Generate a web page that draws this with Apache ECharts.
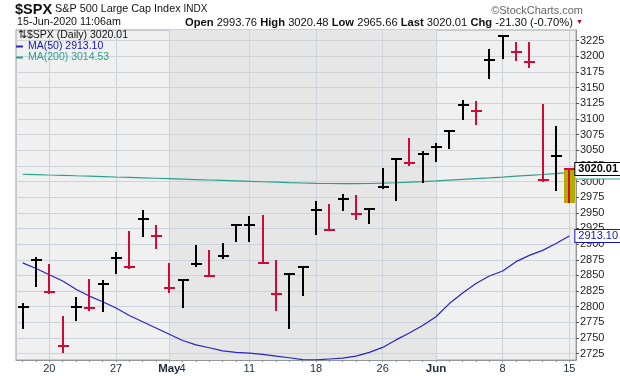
<!DOCTYPE html>
<html>
<head>
<meta charset="utf-8">
<title>$SPX Daily</title>
<script src="https://cdn.jsdelivr.net/npm/echarts@6/dist/echarts.min.js"></script>
<style>
html, body { margin: 0; padding: 0; background: #fff; }
#chart { width: 620px; height: 376px; }
</style>
</head>
<body>
<div id="chart"></div>
<script>
// trading days shown on the chart
var dates = ['2020-04-16','2020-04-17','2020-04-20','2020-04-21','2020-04-22','2020-04-23','2020-04-24',
	'2020-04-27','2020-04-28','2020-04-29','2020-04-30','2020-05-01','2020-05-04','2020-05-05','2020-05-06',
	'2020-05-07','2020-05-08','2020-05-11','2020-05-12','2020-05-13','2020-05-14','2020-05-15','2020-05-18',
	'2020-05-19','2020-05-20','2020-05-21','2020-05-22','2020-05-26','2020-05-27','2020-05-28','2020-05-29',
	'2020-06-01','2020-06-02','2020-06-03','2020-06-04','2020-06-05','2020-06-08','2020-06-09','2020-06-10',
	'2020-06-11','2020-06-12','2020-06-15'];
var highs = [2806.5, 2879.2, 2869.0, 2785.5, 2815.1, 2844.9, 2842.7, 2887.7, 2921.2, 2954.9, 2930.9,
	2869.1, 2844.2, 2898.2, 2891.1, 2901.9, 2932.2, 2944.3, 2945.8, 2874.1, 2852.8, 2865.0, 2968.1,
	2964.2, 2980.3, 2978.5, 2956.8, 3021.7, 3036.3, 3068.7, 3049.2, 3062.2, 3081.1, 3130.9, 3128.9,
	3211.7, 3233.1, 3222.7, 3223.3, 3123.5, 3088.4, 3020.48];
var lows = [2764.3, 2830.9, 2820.4, 2727.1, 2776.0, 2794.3, 2791.8, 2852.9, 2860.7, 2912.2, 2892.5,
	2821.6, 2797.9, 2863.6, 2847.7, 2876.5, 2902.9, 2903.4, 2869.6, 2793.2, 2765.0, 2816.8, 2913.9,
	2922.4, 2953.6, 2938.6, 2933.6, 2988.2, 2969.8, 3023.4, 2998.6, 3031.5, 3051.6, 3098.9, 3090.4,
	3163.8, 3196.0, 3193.1, 3181.5, 2999.5, 2984.5, 2965.66];
var closes = [2799.6, 2874.6, 2823.2, 2736.6, 2799.3, 2797.8, 2836.7, 2878.5, 2863.4, 2939.5, 2912.4,
	2830.7, 2842.7, 2868.4, 2848.4, 2881.2, 2929.8, 2930.3, 2870.1, 2820.0, 2852.5, 2863.7, 2953.9,
	2922.9, 2971.6, 2948.5, 2955.5, 2991.8, 3036.1, 3029.7, 3044.3, 3055.7, 3080.8, 3122.9, 3112.4,
	3193.9, 3232.4, 3207.2, 3190.1, 3002.1, 3041.3, 3020.01];
var prevClose = 2783.4; // close before the first bar, sets its colour
var ma50 = [2870, 2861, 2851, 2841, 2828, 2817, 2808, 2798, 2786, 2776, 2766, 2756, 2746, 2739,
	2734.5, 2729.5, 2727, 2726, 2724, 2721, 2718.5, 2715.5, 2715, 2716.5, 2718, 2721, 2727, 2735,
	2747, 2758, 2770, 2784, 2805, 2822, 2837, 2849, 2857, 2872, 2882, 2890, 2901, 2913.10];
var ma200 = [3011.6, 3011.0, 3010.4, 3009.9, 3009.2, 3008.6, 3007.9, 3007.2, 3006.6, 3005.9, 3005.2,
	3004.5, 3003.8, 3003.1, 3002.4, 3001.7, 3001.0, 3000.3, 2999.6, 2998.9, 2998.2, 2997.6, 2997.1,
	2996.8, 2996.6, 2996.6, 2996.8, 2997.3, 2998.0, 2998.9, 2999.9, 3001.0, 3002.2, 3003.4, 3004.6,
	3005.8, 3007.1, 3008.5, 3009.9, 3011.2, 3012.6, 3014.53];

// price axis ticks
var yTicks = [2725, 2750, 2775, 2800, 2825, 2850, 2875, 2900, 2925, 2950, 2975, 3000, 3025, 3050,
	3075, 3100, 3125, 3150, 3175, 3200, 3225];

// x axis labels and vertical grid lines
var tickDates = ['2020-04-20','2020-04-27','2020-05-01','2020-05-04','2020-05-11','2020-05-18',
	'2020-05-26','2020-06-01','2020-06-08','2020-06-15'];
var tickLabels = ['20', '27', '{b|May}', '4', '11', '18', '26', '{b|Jun}', '8', '15'];
var gridDates = ['2020-04-20','2020-04-27','2020-05-01','2020-05-11','2020-05-18','2020-05-26',
	'2020-06-01','2020-06-08','2020-06-15'];
var mayStart = '2020-05-01', junStart = '2020-06-01';

// header quote
var quote = { open: '2993.76', high: '3020.48', low: '2965.66', last: '3020.01', chg: '-21.30', pct: '(-0.70%)' };

var red = '#d10a35', black = '#000000', blue = '#2626c0', teal = '#2b9f8f';
var font = 'Liberation Sans, Arial, sans-serif';

var chart = echarts.init(document.getElementById('chart'), null, { renderer: 'canvas' });

var legendValues = {
	'$SPX (Daily)': quote.last,
	'MA(50)': ma50[ma50.length - 1].toFixed(2),
	'MA(200)': ma200[ma200.length - 1].toFixed(2)
};

function renderBar(params, api) {
	var i = params.dataIndex;
	var hi = api.coord([i, api.value(1)]);
	var lo = api.coord([i, api.value(2)]);
	var cl = api.coord([i, api.value(3)]);
	var x = Math.round(hi[0]);
	var prev = i > 0 ? closes[i - 1] : prevClose;
	var color = closes[i] < prev ? red : black;
	var kids = [];
	if (i === dates.length - 1) {
		// highlight on the latest bar
		kids.push({ type: 'rect', shape: { x: x - 5, y: hi[1], width: 11, height: lo[1] - hi[1] },
			style: { fill: '#b3ad00' } });
	}
	kids.push({ type: 'rect', shape: { x: x - 1, y: Math.round(hi[1]), width: 2, height: Math.round(lo[1] - hi[1]) },
		style: { fill: color } });
	kids.push({ type: 'rect', shape: { x: x - 5, y: Math.round(cl[1]) - 1, width: 11, height: 2 },
		style: { fill: color } });
	return { type: 'group', children: kids };
}

var tagLabel = function (color, bold) {
	return {
		show: true, distance: 6, fontSize: 11, fontFamily: font, color: color,
		fontWeight: bold ? 'bold' : 'normal',
		backgroundColor: '#fff', borderColor: color, borderWidth: 1, padding: [1, 2, 0, 3],
		formatter: function (p) { return p.value.toFixed ? p.value.toFixed(2) : p.value; }
	};
};

var option = {
	animation: false,
	backgroundColor: '#fff',
	textStyle: { fontFamily: font },
	title: [
		{ left: 15, top: 2, padding: 0, text: '{a|$SPX}{b| S&P 500 Large Cap Index }{c|INDX}',
			textStyle: { fontSize: 11, fontWeight: 'normal', rich: {
				a: { fontSize: 14.5, fontWeight: 'bold', color: '#111', fontFamily: font },
				b: { fontSize: 10.8, color: '#111', fontFamily: font },
				c: { fontSize: 10, color: '#111', fontFamily: font }
			} } },
		{ right: 37, top: 5, padding: 0, text: '\u00a9StockCharts.com',
			textStyle: { fontSize: 11, fontWeight: 'normal', color: '#666', fontFamily: font } },
		{ left: 17, top: 17, padding: 0, text: '15-Jun-2020 11:06am',
			textStyle: { fontSize: 10.7, fontWeight: 'normal', color: '#111', fontFamily: font } },
		{ right: 37, top: 17, padding: 0,
			text: '{k|Open} ' + quote.open + ' {k|High} ' + quote.high + ' {k|Low} ' + quote.low +
				' {k|Last} ' + quote.last + ' {k|Chg} ' + quote.chg + ' ' + quote.pct + ' {r|\u25BC}',
			textStyle: { fontSize: 11.2, fontWeight: 'normal', color: '#111', fontFamily: font,
				rich: {
					k: { fontSize: 11.2, fontWeight: 'bold', color: '#111', fontFamily: font },
					r: { fontSize: 7, color: '#b0002a' }
				} } }
	],
	legend: {
		orient: 'vertical', left: 16, top: 30, padding: [0, 0, 0, 0], itemGap: 0, itemWidth: 7, itemHeight: 2,
		selectedMode: false,
		textStyle: { fontSize: 10.5, lineHeight: 10, fontFamily: font },
		data: [
			{ name: '$SPX (Daily)', icon: 'none', textStyle: { color: '#111', padding: [0, 0, 0, -10] } },
			{ name: 'MA(50)', icon: 'rect', itemStyle: { color: blue }, textStyle: { color: '#1414b4' } },
			{ name: 'MA(200)', icon: 'rect', itemStyle: { color: teal }, textStyle: { color: teal } }
		],
		formatter: function (name) {
			return (name === '$SPX (Daily)' ? '\u21C5' : '') + name + ' ' + legendValues[name];
		}
	},
	grid: {
		left: 16, right: 44, top: 30, bottom: 16,
		show: true, backgroundColor: '#f0f0f0', borderColor: '#9aa1a9', borderWidth: 1
	},
	xAxis: {
		type: 'category', data: dates, boundaryGap: true, z: 2,
		axisLine: { lineStyle: { color: '#8f969e' } },
		axisTick: { show: true, interval: 0, alignWithLabel: true, length: 2, lineStyle: { color: '#8f969e' } },
		axisLabel: {
			margin: 3, fontSize: 11, color: '#1d2a3a', fontFamily: font,
			interval: function (idx, val) { return tickDates.indexOf(val) >= 0; },
			formatter: function (val) {
				var k = tickDates.indexOf(val);
				return k >= 0 ? tickLabels[k] : '';
			},
			rich: { b: { fontSize: 11.5, fontWeight: 'bold', color: '#1d2a3a', fontFamily: font } }
		},
		splitLine: {
			show: true, alignWithLabel: true,
			interval: function (idx, val) { return gridDates.indexOf(val) >= 0; },
			lineStyle: { color: '#cdd3db', width: 1 }
		}
	},
	yAxis: {
		type: 'value', position: 'right', min: 2714.9, max: 3242, z: 2,
		axisLine: { show: true, lineStyle: { color: '#8f969e' } },
		axisTick: { show: true, length: 3, customValues: yTicks, lineStyle: { color: '#555' } },
		axisLabel: {
			margin: 4, fontSize: 11, color: '#222', fontFamily: font, customValues: yTicks,
			formatter: function (v) { return String(v); }
		},
		splitLine: { show: true, lineStyle: { color: '#cdd3db', width: 1 } }
	},
	series: [
		{
			name: 'months', type: 'line', data: [], z: 1, silent: true,
			markArea: {
				silent: true,
				itemStyle: { color: '#e6e6e6' },
				data: [[{ xAxis: mayStart }, { xAxis: junStart }]]
			}
		},
		{
			name: 'MA(200)', type: 'line', data: ma200, z: 3, showSymbol: false, smooth: false,
			lineStyle: { color: teal, width: 1.2 }, itemStyle: { color: teal },
			endLabel: tagLabel(teal, false)
		},
		{
			name: 'MA(50)', type: 'line', data: ma50, z: 4, showSymbol: false, smooth: false,
			lineStyle: { color: blue, width: 1.2 }, itemStyle: { color: blue },
			endLabel: tagLabel('#1414b4', false)
		},
		{
			name: '$SPX (Daily)', type: 'custom', z: 5,
			renderItem: renderBar,
			encode: { x: 0, y: [1, 2, 3] },
			itemStyle: { color: black },
			data: dates.map(function (d, i) { return [i, highs[i], lows[i], closes[i]]; })
		},
		{
			name: 'Last', type: 'line', z: 6, showSymbol: false,
			lineStyle: { opacity: 0 },
			data: dates.map(function (d, i) { return i === dates.length - 1 ? closes[i] : null; }),
			endLabel: tagLabel('#000', true)
		}
	]
};

chart.setOption(option);
</script>
</body>
</html>
